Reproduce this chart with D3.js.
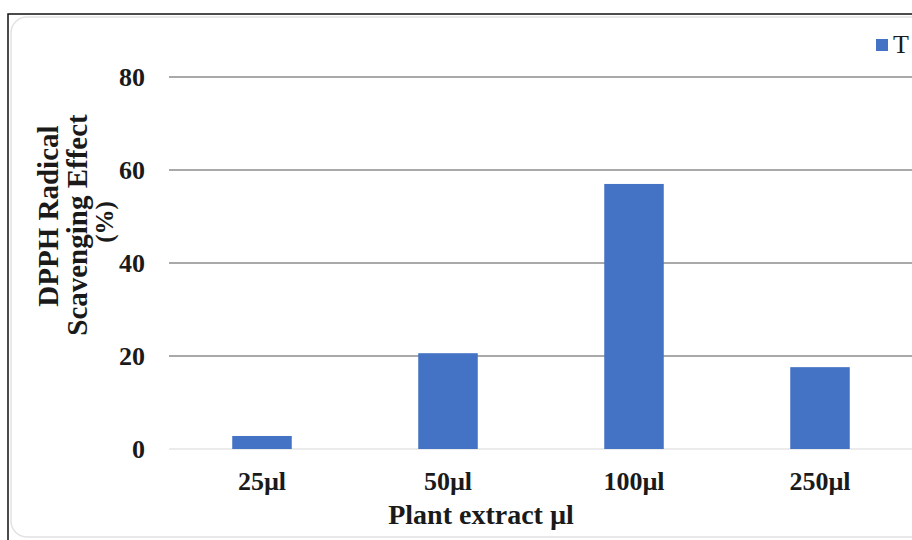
<!DOCTYPE html>
<html>
<head>
<meta charset="utf-8">
<script src="https://cdn.jsdelivr.net/npm/d3@7"></script>
<style>
  body { margin: 0; background: #fff; }
  text { font-family: "Liberation Serif", "Times New Roman", serif; font-weight: bold; fill: #1a1a1a; }
</style>
</head>
<body>
<div id="chart"></div>
<script>
// Chart data
const categories = ["25µl", "50µl", "100µl", "250µl"];
const values = [2.8, 20.6, 57.0, 17.6];
const yTicks = [0, 20, 40, 60, 80];
const seriesName = "T";

const width = 912, height = 540;
const margin = {top: 77, right: -1, bottom: 91, left: 169};
const innerW = width - margin.left - margin.right;
const innerH = height - margin.top - margin.bottom;

const svg = d3.select("#chart")
    .append("svg")
    .attr("width", width)
    .attr("height", height);

// frame: black outer edge + soft rounded inner border
svg.append("path")
    .attr("d", "M8,540 L8,14 L912,14")
    .attr("fill", "none")
    .attr("stroke", "#111")
    .attr("stroke-width", 1.5);
svg.append("rect")
    .attr("x", 11).attr("y", 17)
    .attr("width", 930).attr("height", 520)
    .attr("rx", 16)
    .attr("fill", "none")
    .attr("stroke", "#e2e2e2")
    .attr("stroke-width", 1.5);

const g = svg.append("g")
    .attr("transform", "translate(" + margin.left + "," + margin.top + ")");

const x = d3.scaleBand()
    .domain(categories)
    .range([0, innerW])
    .paddingInner(0.68)
    .paddingOuter(0.34);

const y = d3.scaleLinear()
    .domain([0, 80])
    .range([innerH, 0]);

// gridlines
g.append("g")
    .selectAll("line")
    .data(yTicks)
    .join("line")
    .attr("x1", 0)
    .attr("x2", innerW)
    .attr("y1", d => y(d))
    .attr("y2", d => y(d))
    .attr("stroke", d => d === 0 ? "#e4e4e4" : "#8c8c8c")
    .attr("stroke-width", 1.5);

// y tick labels
g.append("g")
    .selectAll("text")
    .data(yTicks)
    .join("text")
    .attr("x", -24)
    .attr("y", d => y(d))
    .attr("dy", "0.34em")
    .attr("text-anchor", "end")
    .style("font-size", "26px")
    .text(d => d);

// bars
g.append("g")
    .selectAll("rect")
    .data(values)
    .join("rect")
    .attr("x", (d, i) => x(categories[i]))
    .attr("width", x.bandwidth())
    .attr("y", d => y(d))
    .attr("height", d => innerH - y(d))
    .attr("fill", "#4472c4");

// x tick labels
g.append("g")
    .selectAll("text")
    .data(categories)
    .join("text")
    .attr("x", d => x(d) + x.bandwidth() / 2)
    .attr("y", innerH + 41)
    .attr("text-anchor", "middle")
    .style("font-size", "26px")
    .text(d => d);

// axis titles
svg.append("text")
    .attr("x", 481)
    .attr("y", 524)
    .attr("text-anchor", "middle")
    .style("font-size", "28px")
    .text("Plant extract µl");

// rotated y title, local y = page x of each baseline
const yTitle = svg.append("text")
    .attr("transform", "translate(0,222) rotate(-90)")
    .attr("text-anchor", "middle")
    .style("font-size", "29px");
yTitle.append("tspan").attr("x", 6).attr("y", 58).text("DPPH Radical");
yTitle.append("tspan").attr("x", -3).attr("y", 87).text("Scavenging Effect");
yTitle.append("tspan").attr("x", 0).attr("y", 113).style("font-size", "25px").text("(%)");

// legend
svg.append("rect")
    .attr("x", 876).attr("y", 39)
    .attr("width", 12).attr("height", 12)
    .attr("fill", "#4472c4");
svg.append("text")
    .attr("x", 893)
    .attr("y", 53)
    .style("font-size", "26px")
    .style("font-weight", "normal")
    .text(seriesName);
</script>
</body>
</html>
